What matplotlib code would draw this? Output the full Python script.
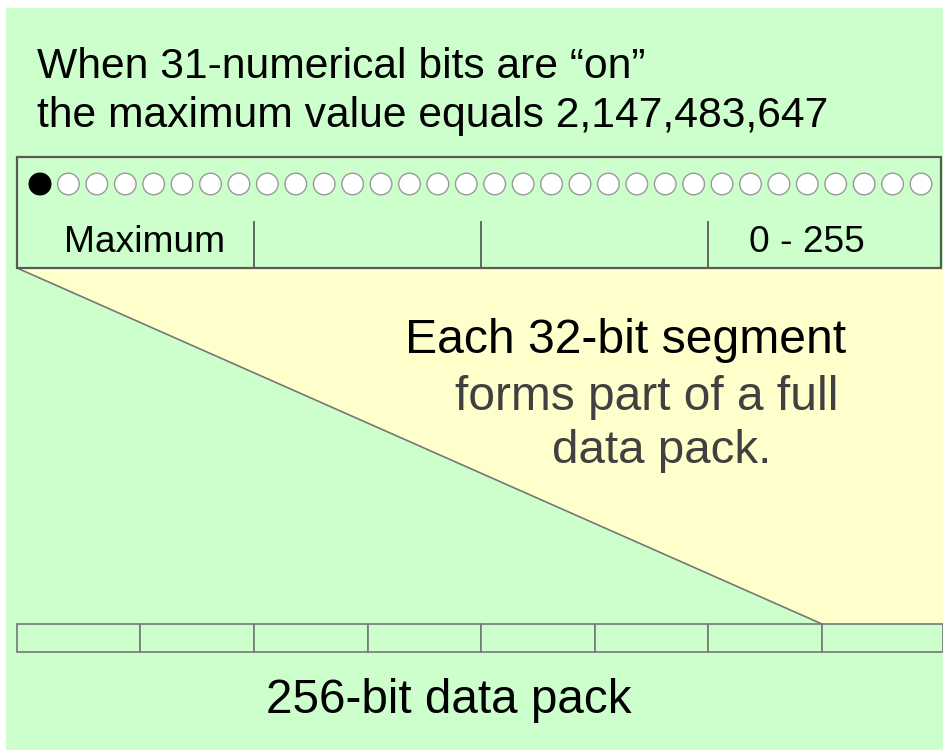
import matplotlib
matplotlib.use("Agg")
import matplotlib.pyplot as plt
from matplotlib.patches import Rectangle, Polygon, Circle

plt.rcParams['font.family'] = ['Liberation Sans', 'DejaVu Sans']

# ---- data ----
title_lines = ["When 31-numerical bits are \u201con\u201d",
               "the maximum value equals 2,147,483,647"]
bit_states = [1, 0, 0, 0, 0, 0, 0, 0, 0, 0, 0, 0, 0, 0, 0, 0,
              0, 0, 0, 0, 0, 0, 0, 0, 0, 0, 0, 0, 0, 0, 0, 0]
segment_labels = ["Maximum", "", "", "0 - 255"]
segment_edges = [17, 254, 481, 708, 941]
pack_edges = [17, 140, 254, 368, 481, 595, 708, 822, 943]
note_lines = ["Each 32-bit segment", "forms part of a full", "data pack."]
pack_label = "256-bit data pack"

W, H = 943, 751
fig = plt.figure(figsize=(W / 100, H / 100), dpi=100)
fig.patch.set_facecolor("white")
ax = fig.add_axes([0, 0, 1, 1])
ax.set_xlim(0, W)
ax.set_ylim(H, 0)
ax.set_aspect("auto")
ax.axis("off")

green = "#CCFFCC"
yellow = "#FFFFCC"
edge = "#5a5a5a"

# background
ax.add_patch(Rectangle((6, 8), W - 6, 742, facecolor=green, edgecolor="none", zorder=0))

# yellow wedge
box_top, box_bot = 157, 268
pack_top, pack_bot = 624, 652
ax.add_patch(Polygon([(17, box_bot), (W, box_bot), (W, pack_top), (pack_edges[-2], pack_top)],
                     closed=True, facecolor=yellow, edgecolor="none", zorder=1))
ax.plot([17, pack_edges[-2]], [box_bot, pack_top], color="#777777", lw=1.2, zorder=2)

# top segment box
ax.add_patch(Rectangle((segment_edges[0], box_top), segment_edges[-1] - segment_edges[0],
                       box_bot - box_top, facecolor=green, edgecolor=edge, lw=1.6, zorder=3))
for x in segment_edges[1:-1]:
    ax.plot([x, x], [222, box_bot], color=edge, lw=1.3, zorder=4)

# bits
n = len(bit_states)
x0, x1 = 40, 921
step = (x1 - x0) / (n - 1)
for i, b in enumerate(bit_states):
    cx = x0 + i * step
    ax.add_patch(Circle((cx, 184), 10.8,
                        facecolor="black" if b else "white",
                        edgecolor="black" if b else "#999999", lw=1.0, zorder=5))

# segment labels
label_x = [145, None, None, 807]
for i, lab in enumerate(segment_labels):
    if lab:
        ax.text(label_x[i], 252, lab, ha="center", va="baseline", fontsize=26.7,
                color="black", zorder=6)

# pack cells
for i in range(len(pack_edges) - 1):
    ax.add_patch(Rectangle((pack_edges[i], pack_top), pack_edges[i + 1] - pack_edges[i],
                           pack_bot - pack_top, facecolor=green, edgecolor="#777777",
                           lw=1.2, zorder=3))

# title
ax.text(37, 78, title_lines[0], ha="left", va="baseline", fontsize=30.7, color="black")
ax.text(37, 127, title_lines[1], ha="left", va="baseline", fontsize=30.7, color="black")

# note
ax.text(405, 353, note_lines[0], ha="left", va="baseline", fontsize=34.7, color="black", zorder=6)
ax.text(455, 410, note_lines[1], ha="left", va="baseline", fontsize=34.5, color="#404040", zorder=6)
ax.text(552, 463, note_lines[2], ha="left", va="baseline", fontsize=34.2, color="#404040", zorder=6)

# pack label
ax.text(449, 713, pack_label, ha="center", va="baseline", fontsize=34.3, color="black")

fig.savefig("out.png", dpi=100, facecolor="white")
